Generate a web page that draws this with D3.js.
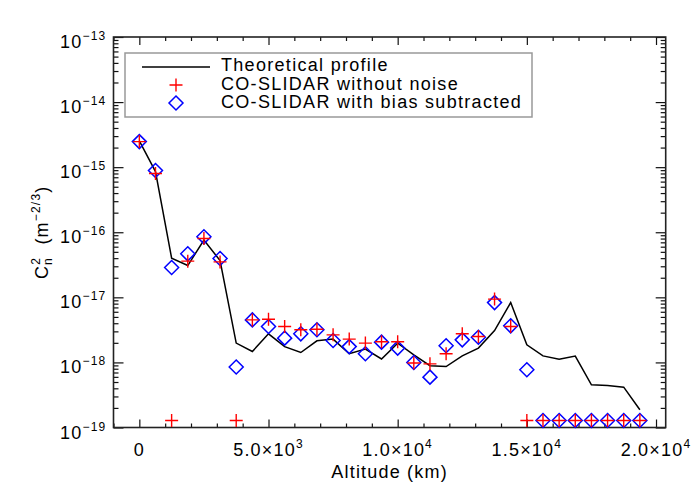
<!DOCTYPE html>
<html>
<head>
<meta charset="utf-8">
<script src="https://cdn.jsdelivr.net/npm/d3@7"></script>
<style>
  body { margin: 0; background: #fff; }
  text { font-family: "Liberation Sans", Arial, sans-serif; fill: #000; }
</style>
</head>
<body>
<script>
// altitude of each layer (m)
var altitude = [0, 625, 1250, 1875, 2500, 3125, 3750, 4375, 5000, 5625, 6250, 6875,
    7500, 8125, 8750, 9375, 10000, 10625, 11250, 11875, 12500, 13125, 13750, 14375,
    15000, 15625, 16250, 16875, 17500, 18125, 18750, 19375];

// theoretical Cn2 profile
var theory = [2.54e-15, 8.55e-16, 4.0e-17, 3.08e-17, 7.6e-17, 3.67e-17, 1.98e-18, 1.47e-18,
    2.75e-18, 1.75e-18, 1.42e-18, 2.15e-18, 2.28e-18, 1.36e-18, 1.6e-18, 1.13e-18,
    1.98e-18, 1.31e-18, 8.9e-19, 8.65e-19, 1.26e-18, 1.66e-18, 3.09e-18, 8.3e-18,
    1.86e-18, 1.26e-18, 1.12e-18, 1.25e-18, 4.53e-19, 4.42e-19, 4.17e-19, 1.87e-19];

// CO-SLIDAR without noise (red crosses)
var noNoise = [2.47e-15, 8.0e-16, 1.28e-19, 3.6e-17, 8.0e-17, 3.5e-17, 1.28e-19, 4.5e-18,
    4.6e-18, 3.56e-18, 3.17e-18, 3.23e-18, 2.65e-18, 2.28e-18, 1.98e-18, 2.08e-18,
    2.08e-18, 9.8e-19, 9.5e-19, 1.36e-18, 2.75e-18, 2.5e-18, 9.4e-18, 3.56e-18,
    1.28e-19, 1.28e-19, 1.28e-19, 1.28e-19, 1.28e-19, 1.28e-19, 1.28e-19, 1.28e-19];

// CO-SLIDAR with bias subtracted (blue diamonds)
var biasSub = [2.47e-15, 8.9e-16, 2.87e-17, 4.66e-17, 8.5e-17, 3.95e-17, 8.5e-19, 4.5e-18,
    3.56e-18, 2.36e-18, 2.75e-18, 3.17e-18, 2.17e-18, 1.75e-18, 1.36e-18, 2.05e-18,
    1.66e-18, 9.96e-19, 5.94e-19, 1.8e-18, 2.22e-18, 2.44e-18, 8.3e-18, 3.65e-18,
    7.7e-19, 1.28e-19, 1.28e-19, 1.28e-19, 1.28e-19, 1.28e-19, 1.28e-19, 1.28e-19];

var xMajor = [0, 5000, 10000, 15000, 20000];
var xLabels = [["0", ""], ["5.0\u00d710", "3"], ["1.0\u00d710", "4"], ["1.5\u00d710", "4"], ["2.0\u00d710", "4"]];
var yExponents = [-19, -18, -17, -16, -15, -14, -13];
var legendLabels = ["Theoretical profile", "CO-SLIDAR without noise", "CO-SLIDAR with bias subtracted"];

var W = 700, H = 500;
// plot frame (note: "top" is reserved on window, so use a prefix)
var pLeft = 113.5, pRight = 665.7, pTop = 37, pBottom = 427.5;

var svg = d3.select("body").append("svg")
    .attr("width", W)
    .attr("height", H);

var x = d3.scaleLinear().domain([-1000, 20375]).range([pLeft, pRight]);
var y = d3.scaleLog().domain([1e-19, 1e-13]).range([pBottom, pTop]);

// minor tick values
var xMinor = d3.range(-1000, 20001, 1000).filter(function (d) { return d % 5000 !== 0; });
var yMajor = yExponents.map(function (e) { return Math.pow(10, e); });
var yMinor = [];
yExponents.slice(0, -1).forEach(function (e) {
    for (var m = 2; m <= 9; m++) yMinor.push(m * Math.pow(10, e));
});

function addAxis(axisFn, scale, values, size, transform) {
    var g = svg.append("g")
        .attr("transform", transform)
        .call(axisFn(scale).tickValues(values).tickSize(-size).tickSizeOuter(0).tickFormat(""));
    g.select(".domain").remove();
    g.selectAll(".tick line").attr("stroke", "#111").attr("stroke-width", 1.2);
}

// ticks point inward on all four sides
addAxis(d3.axisBottom, x, xMajor, 8, "translate(0," + pBottom + ")");
addAxis(d3.axisBottom, x, xMinor, 4, "translate(0," + pBottom + ")");
addAxis(d3.axisTop, x, xMajor, 8, "translate(0," + pTop + ")");
addAxis(d3.axisTop, x, xMinor, 4, "translate(0," + pTop + ")");
addAxis(d3.axisLeft, y, yMajor, 10, "translate(" + pLeft + ",0)");
addAxis(d3.axisLeft, y, yMinor, 5, "translate(" + pLeft + ",0)");
addAxis(d3.axisRight, y, yMajor, 10, "translate(" + pRight + ",0)");
addAxis(d3.axisRight, y, yMinor, 5, "translate(" + pRight + ",0)");

svg.append("rect")
    .attr("x", pLeft).attr("y", pTop)
    .attr("width", pRight - pLeft).attr("height", pBottom - pTop)
    .attr("fill", "none")
    .attr("stroke", "#222")
    .attr("stroke-width", 1.6);

// x tick labels
var xl = svg.append("g").selectAll("text")
    .data(xMajor)
    .enter().append("text")
    .attr("x", function (d) { return x(d); })
    .attr("y", pBottom + 28)
    .attr("text-anchor", "middle")
    .style("font-size", "18px")
    .style("letter-spacing", "1.2px");
xl.append("tspan").text(function (d, i) { return xLabels[i][0]; });
xl.append("tspan")
    .attr("dy", -8)
    .style("font-size", "12px")
    .text(function (d, i) { return xLabels[i][1]; });

// y tick labels
var yl = svg.append("g").selectAll("text")
    .data(yExponents)
    .enter().append("text")
    .attr("x", pLeft - 7)
    .attr("y", function (d) { return y(Math.pow(10, d)) + 11; })
    .attr("text-anchor", "end")
    .style("font-size", "18px")
    .style("letter-spacing", "1.2px");
yl.append("tspan").text("10");
yl.append("tspan")
    .attr("dy", -8)
    .style("font-size", "12px")
    .text(function (d) { return "\u2212" + Math.abs(d); });

// axis titles
svg.append("text")
    .attr("x", (pLeft + pRight) / 2)
    .attr("y", 478)
    .attr("text-anchor", "middle")
    .style("font-size", "18px")
    .style("letter-spacing", "1.2px")
    .text("Altitude (km)");

var yt = svg.append("text")
    .attr("transform", "translate(48," + ((pTop + pBottom) / 2) + ") rotate(-90)")
    .attr("text-anchor", "middle")
    .style("font-size", "18px")
    .style("letter-spacing", "1.2px");
yt.append("tspan").text("C");
yt.append("tspan").attr("dy", -8).style("font-size", "12px").text("2");
yt.append("tspan").attr("dx", -8).attr("dy", 12).style("font-size", "12px").text("n");
yt.append("tspan").attr("dy", -4).text("\u00a0\u00a0(m");
yt.append("tspan").attr("dy", -8).style("font-size", "12px").text("\u22122/3");
yt.append("tspan").attr("dy", 8).text(")");

// theoretical profile
var line = d3.line()
    .x(function (d, i) { return x(altitude[i]); })
    .y(function (d) { return y(d); });

svg.append("path")
    .datum(theory)
    .attr("d", line)
    .attr("fill", "none")
    .attr("stroke", "#000")
    .attr("stroke-width", 1.5);

var diamond = "M0,-7L7,0L0,7L-7,0Z";
var cross = "M-6.5,0H6.5M0,-6.5V6.5";

svg.append("g").selectAll("path")
    .data(biasSub)
    .enter().append("path")
    .attr("d", diamond)
    .attr("transform", function (d, i) { return "translate(" + x(altitude[i]) + "," + y(d) + ")"; })
    .attr("fill", "none")
    .attr("stroke", "#0000ff")
    .attr("stroke-width", 1.5);

svg.append("g").selectAll("path")
    .data(noNoise)
    .enter().append("path")
    .attr("d", cross)
    .attr("transform", function (d, i) { return "translate(" + x(altitude[i]) + "," + y(d) + ")"; })
    .attr("fill", "none")
    .attr("stroke", "#ff0000")
    .attr("stroke-width", 1.4);

// legend
var lg = svg.append("g");
lg.append("rect")
    .attr("x", 125).attr("y", 53)
    .attr("width", 407).attr("height", 64)
    .attr("fill", "#fff")
    .attr("stroke", "#999")
    .attr("stroke-width", 1.5);
lg.append("line")
    .attr("x1", 142).attr("x2", 210)
    .attr("y1", 67).attr("y2", 67)
    .attr("stroke", "#000").attr("stroke-width", 1.5);
lg.append("path")
    .attr("d", cross)
    .attr("transform", "translate(176,85)")
    .attr("fill", "none").attr("stroke", "#ff0000").attr("stroke-width", 1.4);
lg.append("path")
    .attr("d", diamond)
    .attr("transform", "translate(176,103)")
    .attr("fill", "none").attr("stroke", "#0000ff").attr("stroke-width", 1.5);
lg.selectAll("text.leg")
    .data(legendLabels)
    .enter().append("text")
    .attr("class", "leg")
    .attr("x", 221)
    .attr("y", function (d, i) { return 71.3 + i * 18.3; })
    .style("font-size", "18px")
    .style("letter-spacing", "1.3px")
    .text(function (d) { return d; });
</script>
</body>
</html>
